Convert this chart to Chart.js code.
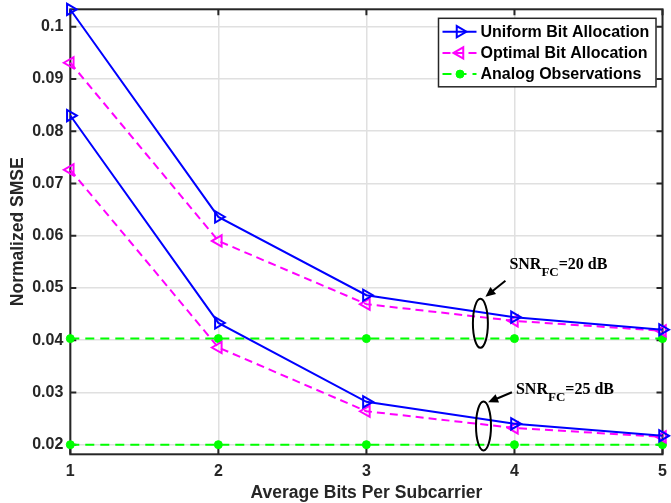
<!DOCTYPE html>
<html lang="en">
<head>
    <meta charset="UTF-8">
    <title>Normalized SMSE vs average bits</title>
    <style>
        html, body { margin: 0; padding: 0; background: #fff; }
        .chart_container { width: 671px; height: 503px; }
    </style>
</head>
<body>
    <div class="chart_container">
        <canvas class="smseChart" width="671" height="503"></canvas>
    </div>

<script src="https://cdn.jsdelivr.net/npm/chart.js"></script>
<script>
    // values
    const bits = [1, 2, 3, 4, 5];
    const uniform20 = [0.1033, 0.0636, 0.0486, 0.0444, 0.0420];
    const optimal20 = [0.0931, 0.0590, 0.0469, 0.0437, 0.0418];
    const uniform25 = [0.0830, 0.0433, 0.0282, 0.0240, 0.0217];
    const optimal25 = [0.0726, 0.0386, 0.0264, 0.0232, 0.0215];
    const analog20 = [0.0403, 0.0403, 0.0403, 0.0403, 0.0403];
    const analog25 = [0.0200, 0.0200, 0.0200, 0.0200, 0.0200];

    const xTicks = [1, 2, 3, 4, 5];
    const xTickLabels = ['1', '2', '3', '4', '5'];
    const yTicks = [0.02, 0.03, 0.04, 0.05, 0.06, 0.07, 0.08, 0.09, 0.1];
    const yTickLabels = ['0.02', '0.03', '0.04', '0.05', '0.06', '0.07', '0.08', '0.09', '0.1'];

    const legendNames = ['Uniform Bit Allocation', 'Optimal Bit Allocation', 'Analog Observations'];

    // SNR_FC annotations (data units)
    const annoValues = ['20 dB', '25 dB'];
    const annoTextX = [3.966, 4.010];
    const annoTextY = [0.05357, 0.02965];
    const arrowFromX = [3.939, 3.983];
    const arrowFromY = [0.05139, 0.03003];
    const arrowToX = [3.804, 3.822];
    const arrowToY = [0.04832, 0.02811];
    const ellipseX = [3.770, 3.791];
    const ellipseY = [0.04323, 0.02358];

    const axisColor = '#262626';
    const sansFont = "'Liberation Sans', Arial, sans-serif";
    const serifFont = "'Liberation Serif', 'Times New Roman', serif";

    function pts(arr) {
        return bits.map((b, i) => ({ x: b, y: arr[i] }));
    }

    const uniformStyle = {
        borderColor: '#0000ff', borderWidth: 2, pointStyle: 'triangle', pointRotation: 90,
        pointRadius: 6.5, pointBorderWidth: 2, pointBorderColor: '#0000ff',
        pointBackgroundColor: 'rgba(0,0,0,0)', borderDash: []
    };
    const optimalStyle = {
        borderColor: '#ff00ff', borderWidth: 2, pointStyle: 'triangle', pointRotation: 270,
        pointRadius: 6.5, pointBorderWidth: 2, pointBorderColor: '#ff00ff',
        pointBackgroundColor: 'rgba(0,0,0,0)', borderDash: [8, 5]
    };
    const analogStyle = {
        borderColor: '#00ff00', borderWidth: 2, pointStyle: 'circle', pointRotation: 0,
        pointRadius: 4, pointBorderWidth: 1, pointBorderColor: '#00ff00',
        pointBackgroundColor: '#00ff00', borderDash: [9, 6]
    };

    function ds(label, arr, style) {
        return Object.assign({ label: label, data: pts(arr), tension: 0, fill: false, clip: false }, style);
    }

    // box, inward ticks
    const boxPlugin = {
        id: 'box',
        beforeDatasetsDraw(chart) {
            const { ctx, chartArea: a, scales } = chart;
            ctx.save();
            ctx.strokeStyle = axisColor;
            ctx.lineWidth = 2;
            ctx.strokeRect(a.left, a.top, a.right - a.left, a.bottom - a.top);
            ctx.beginPath();
            xTicks.forEach(v => {
                const px = scales.x.getPixelForValue(v);
                ctx.moveTo(px, a.bottom); ctx.lineTo(px, a.bottom - 6);
                ctx.moveTo(px, a.top); ctx.lineTo(px, a.top + 6);
            });
            yTicks.forEach(v => {
                const py = scales.y.getPixelForValue(v);
                ctx.moveTo(a.left, py); ctx.lineTo(a.left + 6, py);
                ctx.moveTo(a.right, py); ctx.lineTo(a.right - 6, py);
            });
            ctx.stroke();
            ctx.restore();
        }
    };

    // legend box in upper right + annotations
    const overlayPlugin = {
        id: 'overlay',
        afterDatasetsDraw(chart) {
            const { ctx, chartArea: a, scales } = chart;
            ctx.save();

            // annotations
            ctx.strokeStyle = '#000';
            ctx.fillStyle = '#000';
            ctx.lineWidth = 2;
            annoValues.forEach((val, i) => {
                const ex = scales.x.getPixelForValue(ellipseX[i]);
                const ey = scales.y.getPixelForValue(ellipseY[i]);
                ctx.beginPath();
                ctx.ellipse(ex, ey, 7.5, 24.5, 0, 0, Math.PI * 2);
                ctx.stroke();

                const x0 = scales.x.getPixelForValue(arrowFromX[i]);
                const y0 = scales.y.getPixelForValue(arrowFromY[i]);
                const x1 = scales.x.getPixelForValue(arrowToX[i]);
                const y1 = scales.y.getPixelForValue(arrowToY[i]);
                const ang = Math.atan2(y1 - y0, x1 - x0);
                ctx.beginPath();
                ctx.moveTo(x0, y0);
                ctx.lineTo(x1 - 6 * Math.cos(ang), y1 - 6 * Math.sin(ang));
                ctx.stroke();
                ctx.beginPath();
                ctx.moveTo(x1, y1);
                ctx.lineTo(x1 - 10 * Math.cos(ang) + 4.5 * Math.sin(ang), y1 - 10 * Math.sin(ang) - 4.5 * Math.cos(ang));
                ctx.lineTo(x1 - 10 * Math.cos(ang) - 4.5 * Math.sin(ang), y1 - 10 * Math.sin(ang) + 4.5 * Math.cos(ang));
                ctx.closePath();
                ctx.fill();

                let tx = scales.x.getPixelForValue(annoTextX[i]);
                const ty = scales.y.getPixelForValue(annoTextY[i]);
                ctx.textAlign = 'left';
                ctx.textBaseline = 'alphabetic';
                ctx.font = 'bold 16px ' + serifFont;
                ctx.fillText('SNR', tx, ty);
                tx += ctx.measureText('SNR').width;
                ctx.font = 'bold 13px ' + serifFont;
                ctx.fillText('FC', tx, ty + 7);
                tx += ctx.measureText('FC').width;
                ctx.font = 'bold 16px ' + serifFont;
                ctx.fillText('=' + val, tx, ty);
            });

            // legend
            const styles = [uniformStyle, optimalStyle, analogStyle];
            const lx = a.right - 224, ly = a.top + 9, lw = 217.5, lh = 68.5;
            ctx.fillStyle = '#fff';
            ctx.fillRect(lx, ly, lw, lh);
            ctx.strokeStyle = axisColor;
            ctx.lineWidth = 1.5;
            ctx.strokeRect(lx, ly, lw, lh);
            ctx.font = 'bold 16px ' + sansFont;
            ctx.textBaseline = 'middle';
            legendNames.forEach((name, i) => {
                const st = styles[i];
                const ry = ly + 13.4 + i * 21.2;
                ctx.strokeStyle = st.borderColor;
                ctx.lineWidth = st.borderWidth;
                ctx.setLineDash(st.borderDash);
                ctx.beginPath();
                ctx.moveTo(lx + 4, ry);
                ctx.lineTo(lx + 38, ry);
                ctx.stroke();
                ctx.setLineDash([]);
                ctx.fillStyle = st.pointBackgroundColor;
                ctx.strokeStyle = st.pointBorderColor;
                ctx.lineWidth = st.pointBorderWidth;
                Chart.helpers.drawPoint(ctx, {
                    pointStyle: st.pointStyle, radius: st.pointRadius,
                    rotation: st.pointRotation, borderWidth: st.pointBorderWidth
                }, lx + 21.5, ry);
                ctx.fillStyle = '#000';
                ctx.fillText(name, lx + 42, ry + 0.5);
            });
            ctx.restore();
        }
    };

    const smseCanvas = document.querySelector('.smseChart');
    const smseChart = new Chart(smseCanvas, {
        type: 'line',
        data: {
            datasets: [
                ds('Uniform 20', uniform20, uniformStyle),
                ds('Uniform 25', uniform25, uniformStyle),
                ds('Optimal 20', optimal20, optimalStyle),
                ds('Optimal 25', optimal25, optimalStyle),
                ds('Analog 20', analog20, analogStyle),
                ds('Analog 25', analog25, analogStyle)
            ]
        },
        options: {
            responsive: false,
            animation: false,
            events: [],
            layout: { padding: { left: 0, top: 9.3, right: 6.7, bottom: 0 } },
            plugins: { legend: { display: false }, tooltip: { enabled: false } },
            scales: {
                x: {
                    type: 'linear', min: 1, max: 5,
                    afterBuildTicks: s => { s.ticks = xTicks.map(v => ({ value: v })); },
                    afterFit: s => { s.height = 48.7; s.paddingLeft = 0; s.paddingRight = 0; },
                    grid: { color: '#e0e0e0', lineWidth: 1.5, drawTicks: false },
                    border: { display: false },
                    ticks: {
                        padding: 8, color: axisColor, maxRotation: 0,
                        font: { family: sansFont, size: 16, weight: 'bold' },
                        callback: (v, i) => xTickLabels[i]
                    },
                    title: {
                        display: true, text: 'Average Bits Per Subcarrier', color: axisColor,
                        font: { family: sansFont, size: 17.5, weight: 'bold' },
                        padding: { top: 0, bottom: -1 }
                    }
                },
                y: {
                    type: 'linear', min: 0.01816, max: 0.10333,
                    afterBuildTicks: s => { s.ticks = yTicks.map(v => ({ value: v })); },
                    afterFit: s => { s.width = 70.3; s.paddingTop = 0; s.paddingBottom = 0; },
                    grid: { color: '#e0e0e0', lineWidth: 1.5, drawTicks: false },
                    border: { display: false },
                    ticks: {
                        padding: 7, color: axisColor,
                        font: { family: sansFont, size: 16, weight: 'bold' },
                        callback: (v, i) => yTickLabels[i]
                    },
                    title: {
                        display: true, text: 'Normalized SMSE', color: axisColor,
                        font: { family: sansFont, size: 17.5, weight: 'bold' },
                        padding: { top: 8, bottom: 0 }
                    }
                }
            }
        },
        plugins: [boxPlugin, overlayPlugin]
    });
</script>
</body>
</html>
